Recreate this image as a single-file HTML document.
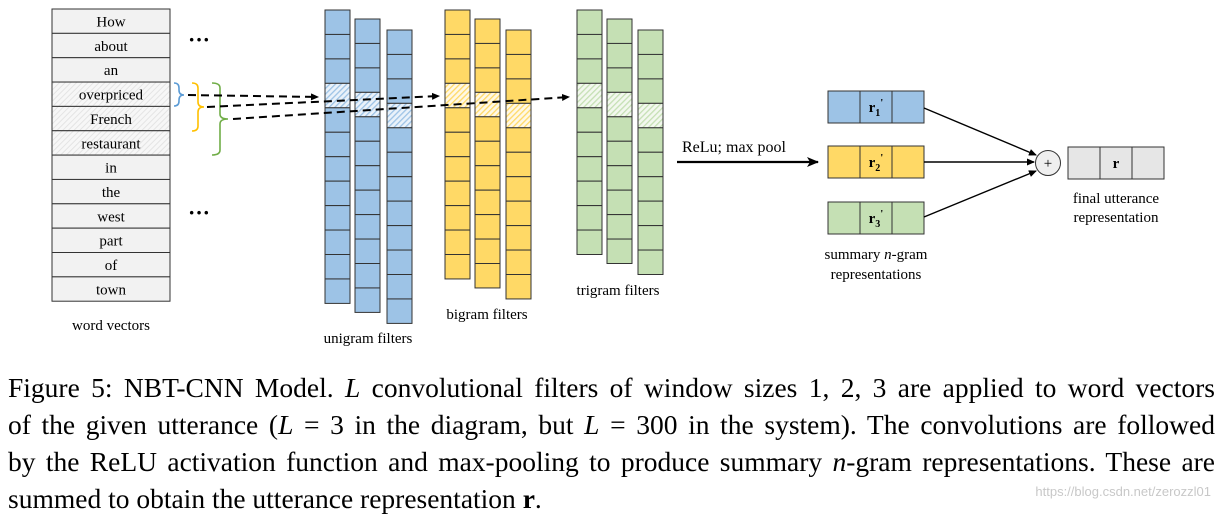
<!DOCTYPE html>
<html><head><meta charset="utf-8">
<style>
body{margin:0;background:#fff;width:1223px;height:509px;overflow:hidden;position:relative;font-family:"Liberation Serif",serif}
svg{position:absolute;left:0;top:0}
.cap{position:absolute;left:8px;width:1207px;font-size:27.5px;line-height:37px;color:#000;text-align:justify;text-align-last:justify;white-space:nowrap}
i{font-style:italic}
.wm{position:absolute;right:12px;top:484px;font-family:"Liberation Sans",sans-serif;font-size:13px;color:#c8c8c8}
</style></head><body>
<svg id="s" width="1223" height="509" viewBox="0 0 1223 509" font-family="Liberation Serif, serif">
<defs>
<pattern id="hb" width="4" height="4" patternUnits="userSpaceOnUse" patternTransform="rotate(45)"><rect width="4" height="4" fill="#eaf2fa"/><rect width="1.3" height="4" fill="#9dc3e6"/></pattern>
<pattern id="hy" width="4" height="4" patternUnits="userSpaceOnUse" patternTransform="rotate(45)"><rect width="4" height="4" fill="#fff8e6"/><rect width="1.3" height="4" fill="#ffd966"/></pattern>
<pattern id="hg" width="4" height="4" patternUnits="userSpaceOnUse" patternTransform="rotate(45)"><rect width="4" height="4" fill="#f3f8ef"/><rect width="1.3" height="4" fill="#c5e0b4"/></pattern>
<pattern id="hw" width="4" height="4" patternUnits="userSpaceOnUse" patternTransform="rotate(45)"><rect width="4" height="4" fill="#f7f7f7"/><rect width="1" height="4" fill="#e4e4e4"/></pattern>
<marker id="a" markerWidth="8" markerHeight="8" refX="7" refY="4" orient="auto" markerUnits="userSpaceOnUse"><path d="M0,0.5 L8,4 L0,7.5 z" fill="#000"/></marker>
<marker id="b" markerWidth="12" markerHeight="10" refX="11" refY="5" orient="auto" markerUnits="userSpaceOnUse"><path d="M0,0 L12,5 L0,10 L3,5 z" fill="#000"/></marker>
</defs>
<g id="g"></g>
<text x="199" y="47" font-size="22" text-anchor="middle" font-weight="bold">···</text>
<text x="199" y="220" font-size="22" text-anchor="middle" font-weight="bold">···</text>
<path d="M174,83 q5,0 5,5 v2 q0,5 5,5 q-5,0 -5,5 v1 q0,5 -5,5" fill="none" stroke="#5b9bd5" stroke-width="1.6"/>
<path d="M192,83 q6,0 6,5 v14 q0,5 6,5 q-6,0 -6,5 v14 q0,5 -6,5" fill="none" stroke="#ffc000" stroke-width="1.6"/>
<path d="M212,83 q8,0 8,5 v26 q0,5 8,5 q-8,0 -8,5 v26 q0,5 -8,5" fill="none" stroke="#70ad47" stroke-width="1.6"/>
<g stroke="#000" stroke-width="2" stroke-dasharray="8,5" fill="none">
<line x1="188" y1="95" x2="318" y2="97" marker-end="url(#a)"/>
<line x1="207" y1="107" x2="439" y2="96" marker-end="url(#a)"/>
<line x1="233" y1="119" x2="569" y2="97" marker-end="url(#a)"/>
</g>
<text x="111" y="330" font-size="15" text-anchor="middle">word vectors</text>
<text x="368" y="343" font-size="15" text-anchor="middle">unigram filters</text>
<text x="487" y="319" font-size="15" text-anchor="middle">bigram filters</text>
<text x="618" y="295" font-size="15" text-anchor="middle">trigram filters</text>
<text x="682" y="152" font-size="16">ReLu; max pool</text>
<line x1="677" y1="162" x2="818" y2="162" stroke="#000" stroke-width="2.2" marker-end="url(#b)"/>
<g stroke="#000" stroke-width="1.4" fill="none">
<line x1="924" y1="108" x2="1036" y2="155" marker-end="url(#a)"/>
<line x1="924" y1="162" x2="1034" y2="162" marker-end="url(#a)"/>
<line x1="924" y1="217" x2="1036" y2="171" marker-end="url(#a)"/>
</g>
<circle cx="1048" cy="163" r="12.5" fill="#efefef" stroke="#333" stroke-width="1"/>
<text x="1048" y="168" font-size="15" text-anchor="middle">+</text>
<text x="1116" y="203" font-size="15" text-anchor="middle">final utterance</text>
<text x="1116" y="222" font-size="15" text-anchor="middle">representation</text>
<text x="876" y="259" font-size="15" text-anchor="middle">summary <tspan font-style="italic">n</tspan>-gram</text>
<text x="876" y="279" font-size="15" text-anchor="middle">representations</text>
</svg>
<div class="cap" style="top:369px">Figure 5: NBT-CNN Model. <i>L</i> convolutional filters of window sizes 1, 2, 3 are applied to word vectors</div>
<div class="cap" style="top:406px">of the given utterance (<i>L</i> = 3 in the diagram, but <i>L</i> = 300 in the system). The convolutions are followed</div>
<div class="cap" style="top:443px">by the ReLU activation function and max-pooling to produce summary <i>n</i>-gram representations. These are</div>
<div class="cap" style="top:480px;text-align-last:left">summed to obtain the utterance representation <b>r</b>.</div>
<div class="wm">https://blog.csdn.net/zerozzl01</div>
<script>
const g=document.getElementById('g');const NS='http://www.w3.org/2000/svg';
function r(x,y,w,h,f,sw){const e=document.createElementNS(NS,'rect');e.setAttribute('x',x);e.setAttribute('y',y);e.setAttribute('width',w);e.setAttribute('height',h);e.setAttribute('fill',f);e.setAttribute('stroke','#333');e.setAttribute('stroke-width',sw||1);g.appendChild(e);}
function t(x,y,s,fs,bold){const e=document.createElementNS(NS,'text');e.setAttribute('x',x);e.setAttribute('y',y);e.setAttribute('font-size',fs);e.setAttribute('text-anchor','middle');if(bold)e.setAttribute('font-weight','bold');e.innerHTML=s;g.appendChild(e);}
const words=['How','about','an','overpriced','French','restaurant','in','the','west','part','of','town'];
const rh=24.35;
words.forEach((w,i)=>{const y=9+i*rh;r(52,y,118,rh,(i>=3&&i<=5)?'url(#hw)':'#f2f2f2');t(111,y+17.5,w,15);});
function col(x,y,n,f,h){const ch=24.45;for(let i=0;i<n;i++)r(x,y+i*ch,25,ch,i==3?h:f);}
[[325,10],[355,19],[387,30]].forEach(p=>col(p[0],p[1],12,'#9dc3e6','url(#hb)'));
[[445,10],[475,19],[506,30]].forEach(p=>col(p[0],p[1],11,'#ffd966','url(#hy)'));
[[577,10],[607,19],[638,30]].forEach(p=>col(p[0],p[1],10,'#c5e0b4','url(#hg)'));
[[91,'#9dc3e6','1'],[146,'#ffd966','2'],[202,'#c5e0b4','3']].forEach(a=>{for(let i=0;i<3;i++)r(828+i*32,a[0],32,32,a[1]);t(876,a[0]+21,'r<tspan font-size="10" dy="4">'+a[2]+'</tspan><tspan dy="-10" font-size="11">\'</tspan>',15,true);});
for(let i=0;i<3;i++)r(1068+i*32,147,32,32,'#e6e6e6');t(1116,168,'r',15,true);
</script>
</body></html>
